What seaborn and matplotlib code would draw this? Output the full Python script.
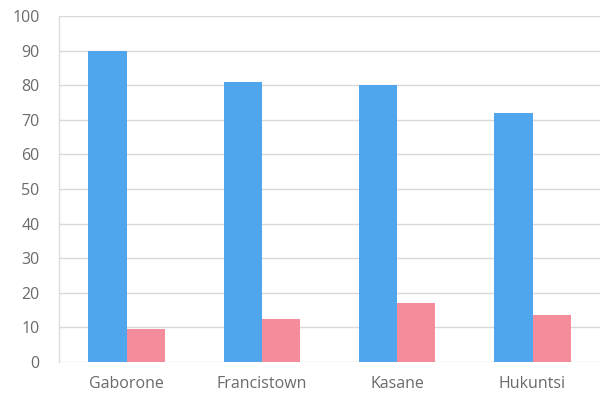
import matplotlib
matplotlib.use("Agg")
import matplotlib.pyplot as plt
import seaborn as sns
import pandas as pd

# Town names and the two series shown per town
towns = ["Gaborone", "Francistown", "Kasane", "Hukuntsi"]
series_a = [90, 81, 80, 72]
series_b = [9.5, 12.3, 17, 13.5]
y_ticks = [0, 10, 20, 30, 40, 50, 60, 70, 80, 90, 100]

df = pd.DataFrame({
    "town": towns * 2,
    "value": series_a + series_b,
    "series": ["A"] * len(towns) + ["B"] * len(towns),
})

sns.set_theme(style="white")
plt.rcParams["font.family"] = ["Open Sans", "DejaVu Sans"]

fig = plt.figure(figsize=(6.02, 3.95), dpi=100)
ax = fig.add_axes([0.098, 0.0835, 0.899, 0.876])

sns.barplot(
    data=df, x="town", y="value", hue="series",
    palette={"A": "#4FA6EC", "B": "#F58C9C"},
    width=0.565, saturation=1, legend=False, ax=ax,
    edgecolor="none", linewidth=0,
)

ax.set_ylim(0, 100)
ax.set_xlim(-0.5, 3.5)
ax.set_yticks(y_ticks)
ax.set_yticklabels([str(t) for t in y_ticks])
ax.yaxis.grid(True, color="#d9d9d9", linewidth=1.0)
ax.set_axisbelow(True)
ax.set_xlabel("")
ax.set_ylabel("")

for side in ("top", "right", "bottom"):
    ax.spines[side].set_visible(False)
ax.spines["left"].set_color("#dcdcdc")
ax.spines["left"].set_linewidth(1.0)

ax.tick_params(axis="both", length=0, labelsize=11.5, labelcolor="#6a6a6a")
ax.tick_params(axis="y", pad=14)
ax.tick_params(axis="x", pad=10)

fig.savefig("out.png", dpi=100)
